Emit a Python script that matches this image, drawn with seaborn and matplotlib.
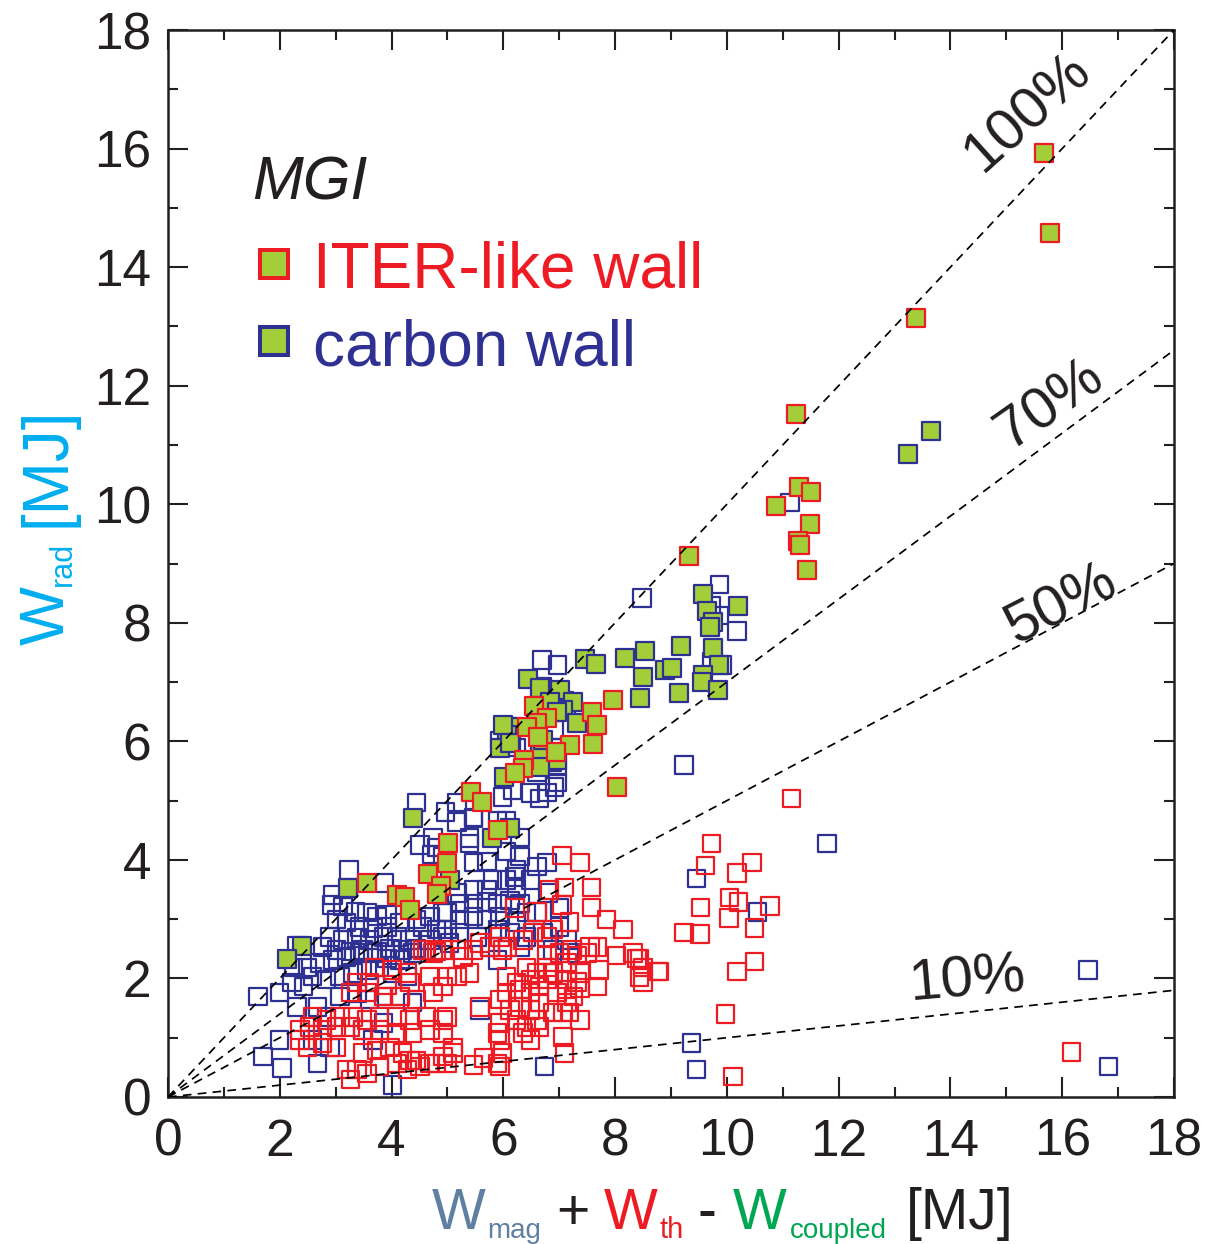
import numpy as np
import pandas as pd
import seaborn as sns
import matplotlib.pyplot as plt
from matplotlib.patches import Rectangle

# ---------------------------------------------------------------------------
# Data: W_rad versus W_mag + W_th - W_coupled (MJ), massive gas injection
# ---------------------------------------------------------------------------
# ITER-like wall, green-filled markers
ilw_filled = [
    (15.67, 15.92), (15.78, 14.57), (13.38, 13.14), (11.23, 11.52), (11.29, 10.29),
    (11.50, 10.20), (10.88, 9.97), (11.48, 9.66), (11.27, 9.38), (11.31, 9.31),
    (11.43, 8.89), (9.32, 9.12), (7.96, 6.69), (7.58, 6.49), (7.67, 6.27),
    (7.60, 5.95), (7.19, 5.94), (6.94, 5.82), (8.03, 5.23), (6.55, 6.59),
    (6.78, 6.39), (6.60, 6.31), (6.42, 6.24), (6.62, 6.07), (6.37, 5.68),
    (6.35, 5.55), (6.21, 5.46), (5.42, 5.14), (5.62, 4.97), (5.90, 4.50),
    (5.01, 4.28), (3.56, 3.61), (4.10, 3.41), (4.24, 3.37), (4.33, 3.15),
    (4.65, 3.76), (4.99, 3.95), (4.88, 3.56), (4.81, 3.42),
]

# carbon wall, green-filled markers
cw_filled = [
    (13.24, 10.84), (13.65, 11.23), (10.20, 8.28), (9.57, 8.48), (9.64, 8.20),
    (9.75, 8.01), (9.70, 7.93), (9.75, 7.57), (9.86, 7.29), (9.57, 7.12),
    (9.55, 7.00), (9.84, 6.86), (9.18, 7.61), (9.14, 6.81), (8.89, 7.20),
    (9.02, 7.23), (8.53, 7.52), (8.18, 7.40), (8.50, 7.08), (8.44, 6.73),
    (7.46, 7.39), (7.66, 7.30), (6.44, 7.05), (6.65, 6.90), (7.01, 6.86),
    (7.25, 6.66), (7.07, 6.53), (7.32, 6.31), (6.15, 6.24), (6.06, 6.10),
    (5.94, 5.89), (6.65, 5.80), (6.96, 5.68), (6.01, 5.40), (4.38, 4.70),
    (6.65, 5.57), (3.22, 3.52), (2.40, 2.55), (2.13, 2.33), (5.04, 3.66),
    (5.80, 4.37), (6.12, 4.54), (6.83, 6.66), (5.99, 6.27), (6.12, 5.97),
    (6.71, 6.02), (6.96, 6.49),
]

# carbon wall, open markers
cw_open = [
    (8.48, 8.42), (9.87, 8.64), (9.72, 8.29), (9.87, 8.12), (9.72, 7.34),
    (9.91, 7.29), (10.18, 7.86), (11.13, 10.03), (9.23, 5.60), (9.45, 3.69),
    (11.79, 4.28), (10.55, 3.12), (16.46, 2.14), (9.37, 0.91), (9.46, 0.46),
    (16.83, 0.51), (6.74, 0.52), (4.02, 0.20),
    (6.69, 7.37), (6.97, 7.29), (6.69, 6.93), (6.83, 6.85), (7.01, 6.76),
    (6.88, 6.71), (7.10, 6.68), (6.77, 6.66), (7.13, 6.61), (6.08, 6.24),
    (5.94, 6.02), (6.15, 5.97), (6.24, 5.90), (6.96, 5.90), (6.88, 5.65),
    (6.60, 5.48), (6.96, 5.57), (6.92, 6.19), (6.97, 5.30), (6.48, 5.13),
    (5.99, 5.06), (6.17, 5.18), (6.78, 5.14), (4.45, 4.97), (4.96, 4.81),
    (5.17, 4.64), (5.46, 4.72), (6.06, 4.67), (6.30, 4.38), (4.74, 4.38),
    (5.40, 4.37),
    (4.51, 4.25), (4.81, 4.21), (4.92, 4.06), (4.72, 4.09), (3.24, 3.83),
    (3.88, 3.61), (2.95, 3.41), (2.93, 3.24), (3.13, 3.21), (3.35, 3.12),
    (3.56, 3.11), (3.74, 3.04), (3.92, 3.07), (3.02, 2.99), (3.20, 2.94),
    (3.43, 2.87), (3.67, 2.85), (3.92, 2.87), (4.15, 2.94), (4.45, 2.99),
    (4.69, 3.04), (4.92, 3.11), (4.56, 2.87), (4.81, 2.82), (2.90, 2.70),
    (3.13, 2.65), (3.38, 2.68), (3.61, 2.65), (3.85, 2.70), (4.10, 2.70),
    (4.33, 2.65), (4.69, 2.65), (4.92, 2.70), (2.31, 2.56), (2.77, 2.53),
    (3.02, 2.48), (3.26, 2.45), (3.49, 2.48), (3.74, 2.45), (3.97, 2.51),
    (4.20, 2.48), (4.45, 2.51),
    (2.24, 2.19), (2.49, 2.19), (2.72, 2.26), (2.95, 2.31), (3.20, 2.36),
    (3.43, 2.43), (3.67, 2.43), (3.92, 2.34), (4.15, 2.31), (4.38, 2.43),
    (2.00, 1.76), (2.22, 1.93), (2.42, 1.86), (2.59, 2.03), (2.84, 1.98),
    (3.08, 2.03), (3.31, 2.09), (3.56, 2.14), (3.79, 2.19), (4.02, 2.09),
    (4.28, 2.03), (3.08, 1.69), (3.38, 1.75), (3.61, 1.64), (3.85, 1.69),
    (4.15, 1.69), (4.38, 1.59), (2.31, 1.52), (2.67, 1.52), (2.84, 1.35),
    (2.00, 0.96), (1.70, 0.68), (2.04, 0.49), (2.67, 0.57), (2.59, 0.96),
    (2.90, 0.84), (3.49, 1.13), (3.67, 0.96), (3.85, 1.25), (1.61, 1.69),
    (5.17, 4.97), (5.46, 4.70), (5.89, 4.67), (6.65, 5.04), (6.92, 5.23),
    (5.40, 4.28), (5.46, 3.95), (5.71, 3.97), (6.06, 4.14), (6.30, 4.06),
    (6.24, 3.84), (6.60, 3.89), (6.78, 3.95), (5.81, 3.66), (6.06, 3.66),
    (6.21, 3.71), (6.48, 3.66), (5.71, 3.49), (6.24, 3.52), (5.46, 3.49),
    (5.17, 3.44), (5.22, 3.27), (5.46, 3.27), (5.71, 3.29), (5.90, 3.27),
    (6.12, 3.32), (6.30, 3.27), (6.60, 3.12), (4.99, 3.11), (5.22, 2.99),
    (5.46, 3.04), (5.71, 2.99), (5.94, 3.04), (6.24, 2.95), (6.42, 3.11),
    (5.89, 2.82), (6.12, 2.77), (6.42, 2.70), (6.71, 2.77), (7.01, 2.87),
    (7.14, 2.65), (4.99, 2.82), (5.22, 2.77), (5.53, 2.70), (5.76, 2.53),
    (6.89, 2.48), (5.89, 2.31), (5.58, 1.47), (5.04, 2.60), (6.30, 2.53),
    (7.19, 2.43), (6.80, 3.44), (7.01, 3.19),
]

# ITER-like wall, open markers
ilw_open = [
    (11.15, 5.03), (9.72, 4.28), (9.62, 3.91), (10.45, 3.95), (10.18, 3.78),
    (9.53, 3.20), (10.05, 3.36), (10.21, 3.29), (10.77, 3.22), (10.04, 3.02),
    (10.50, 2.85), (9.23, 2.78), (9.52, 2.75), (10.50, 2.29), (10.18, 2.12),
    (8.80, 2.12), (9.98, 1.40), (10.11, 0.35), (16.17, 0.76),
    (7.05, 4.08), (7.37, 3.95), (7.58, 3.54), (6.83, 3.49), (7.10, 3.54),
    (7.05, 3.24), (7.58, 3.20), (7.85, 2.99), (8.14, 2.82), (7.19, 2.95),
    (6.89, 2.82), (6.60, 3.12), (6.21, 3.19), (6.78, 2.70), (6.53, 2.77),
    (5.94, 2.70), (5.58, 2.60), (5.22, 2.48), (4.92, 2.48), (7.55, 2.53),
    (7.69, 2.53), (8.03, 2.39), (8.32, 2.43), (7.33, 2.39), (7.01, 2.43),
    (6.35, 2.65), (6.08, 2.53), (8.44, 2.34), (8.50, 2.19), (8.77, 2.12),
    (7.71, 2.14), (7.69, 1.86), (8.50, 1.94), (7.23, 2.48), (7.14, 1.98),
    (7.37, 1.84), (7.25, 1.69), (7.19, 1.42), (7.07, 1.01), (7.10, 0.74),
    (5.64, 0.66), (5.94, 0.51), (5.46, 0.54), (5.10, 0.84), (4.81, 0.57),
    (4.51, 0.51), (4.28, 0.46),
    (8.39, 2.34), (8.44, 2.02), (7.37, 2.09), (7.50, 2.43), (7.14, 2.26),
    (6.78, 2.19), (6.60, 2.09), (6.78, 1.98), (6.65, 1.86), (7.14, 1.81),
    (6.96, 1.76), (7.14, 1.59), (7.37, 1.30), (7.07, 1.42), (6.89, 1.42),
    (6.65, 1.59), (6.48, 1.76), (6.30, 1.81), (6.06, 1.76), (5.94, 1.64),
    (6.12, 1.47), (6.30, 1.52), (6.48, 1.47), (6.60, 1.30), (6.42, 1.18),
    (6.24, 1.30), (5.94, 1.25), (5.89, 1.08), (5.94, 0.96), (6.35, 1.08),
    (6.48, 0.96), (6.65, 1.18), (5.99, 0.74), (5.89, 0.57), (5.10, 0.74),
    (4.99, 0.57), (5.58, 1.52), (6.06, 2.03), (6.24, 1.93), (6.48, 1.98),
    (6.42, 2.19), (6.78, 2.39), (6.89, 2.09), (7.32, 1.94), (4.92, 1.86),
    (4.99, 1.35), (4.99, 2.03), (5.17, 2.03), (5.40, 2.09), (5.28, 2.36),
    (5.46, 2.48), (5.76, 2.53), (5.99, 2.48),
    (4.56, 2.48), (4.74, 2.43), (3.70, 2.19), (4.02, 2.14), (4.28, 2.09),
    (3.38, 1.93), (3.61, 1.93), (3.92, 1.89), (4.33, 1.93), (4.69, 2.03),
    (3.26, 1.76), (3.56, 1.76), (3.85, 1.69), (4.15, 1.69), (4.45, 1.64),
    (4.74, 1.76), (2.59, 1.35), (2.84, 1.30), (3.08, 1.35), (3.31, 1.35),
    (3.56, 1.30), (3.79, 1.35), (4.10, 1.35), (4.33, 1.30), (4.63, 1.35),
    (4.92, 1.30), (2.36, 1.13), (2.54, 1.18), (2.77, 1.13), (3.02, 1.18),
    (3.26, 1.18), (3.49, 1.13), (3.79, 1.13), (4.10, 1.08), (4.38, 1.08),
    (4.69, 1.13), (4.92, 1.08), (2.36, 0.96), (2.49, 0.84), (2.77, 0.91),
    (3.02, 0.84), (3.74, 0.79), (3.97, 0.84), (4.20, 0.74), (4.45, 0.62),
    (4.92, 0.68), (3.49, 0.74), (3.20, 0.46), (3.38, 0.46), (3.26, 0.29),
    (3.56, 0.40), (3.79, 0.51), (4.10, 0.57), (4.33, 0.62), (4.69, 0.57),
    (4.63, 2.48), (4.81, 2.45),
]

# radiated-fraction reference lines
fractions = [1.0, 0.7, 0.5, 0.1]
fraction_labels = ["100%", "70%", "50%", "10%"]

RED = "#ED1C24"
BLUE = "#2E3192"
GREEN = "#A3CD39"
INK = "#231F20"

sns.set_style("ticks")
plt.rcParams["font.family"] = ["Liberation Sans", "DejaVu Sans"]

W, H = 1209, 1244
fig = plt.figure(figsize=(W / 100, H / 100), dpi=100)
ax = fig.add_axes([168 / W, (H - 1097) / H, 1006 / W, 1067 / H])


def frame(points, wall, filled):
    arr = np.asarray(points)
    return pd.DataFrame({"x": arr[:, 0], "y": arr[:, 1], "wall": wall, "filled": filled})


groups = [
    (frame(cw_open, "carbon wall", False), BLUE),
    (frame(ilw_open, "ITER-like wall", False), RED),
    (frame(cw_filled, "carbon wall", True), BLUE),
    (frame(ilw_filled, "ITER-like wall", True), RED),
]

for z, (df, edge) in enumerate(groups):
    filled = bool(df["filled"].iloc[0])
    sns.scatterplot(data=df, x="x", y="y", marker="s", s=155,
                    color=GREEN if filled else edge, edgecolor=edge,
                    linewidth=1.6, legend=False, ax=ax, zorder=2 + z)
    if not filled:
        ax.collections[-1].set_facecolor("none")

# dashed lines through the origin
xs = np.array([0.0, 18.0])
for f in fractions:
    ax.plot(xs, f * xs, color="black", lw=1.25, dashes=(5, 3.6), zorder=10)

label_pos = [(15.38, 16.61, 42), (15.78, 11.67, 35), (15.99, 8.30, 27), (14.31, 1.97, 5)]
for (tx, ty, rot), lab in zip(label_pos, fraction_labels):
    ax.text(tx, ty, lab, rotation=rot, rotation_mode="anchor", ha="center",
            va="center", fontsize=42, color=INK, zorder=11)

ax.set_xlim(0, 18)
ax.set_ylim(0, 18)
ax.set_xticks(np.arange(0, 19, 2))
ax.set_yticks(np.arange(0, 19, 2))
ax.set_xticks(np.arange(0, 19, 1), minor=True)
ax.set_yticks(np.arange(0, 19, 1), minor=True)
ax.tick_params(which="both", direction="in", top=True, right=True, width=1.5,
               colors=INK, labelsize=37)
ax.tick_params(which="major", length=14.4)
ax.tick_params(which="minor", length=7.2)
ax.tick_params(axis="x", pad=15)
ax.tick_params(axis="y", pad=12)
for sp in ax.spines.values():
    sp.set_linewidth(1.8)
    sp.set_color(INK)
ax.set_xlabel("")
ax.set_ylabel("")


def fig_xy(px, py):
    return px / W, 1 - py / H


# legend block
fig.text(*fig_xy(252, 200), "MGI", fontsize=44, style="italic", color=INK,
         ha="left", va="baseline")
for cy, edge, label in [(264, RED, "ITER-like wall"), (341, BLUE, "carbon wall")]:
    fx, fy = fig_xy(274 - 14, cy + 14)
    fig.patches.append(Rectangle((fx, fy), 28 / W, 28 / H, transform=fig.transFigure,
                                 facecolor=GREEN, edgecolor=edge, linewidth=2.9))
    fig.text(*fig_xy(313, cy + 24), label, fontsize=46, color=edge,
             ha="left", va="baseline")

# x-axis label, coloured piece by piece
SLATE = "#5F7FA3"
DGREEN = "#00A651"
pieces = [
    (432, 1229, "W", SLATE, 41), (487, 1238, "mag", SLATE, 20),
    (556, 1229, "+", INK, 41), (604, 1229, "W", RED, 41), (660, 1238, "th", RED, 21),
    (698, 1229, "-", INK, 41), (733, 1229, "W", DGREEN, 41),
    (790, 1238, "coupled", DGREEN, 20), (906, 1229, "[MJ]", INK, 41),
]
for px, py, s, c, fs in pieces:
    fig.text(*fig_xy(px, py), s, color=c, fontsize=fs, ha="left", va="baseline")

# y-axis label, rotated
CYAN = "#00AEEF"
for px, py, s, fs in [(64, 645, "W", 45), (71, 586, "rad", 22), (64, 527, "[MJ]", 46)]:
    fig.text(*fig_xy(px, py), s, color=CYAN, fontsize=fs, rotation=90,
             rotation_mode="anchor", ha="left", va="baseline")

fig.savefig("out.png", dpi=100)
